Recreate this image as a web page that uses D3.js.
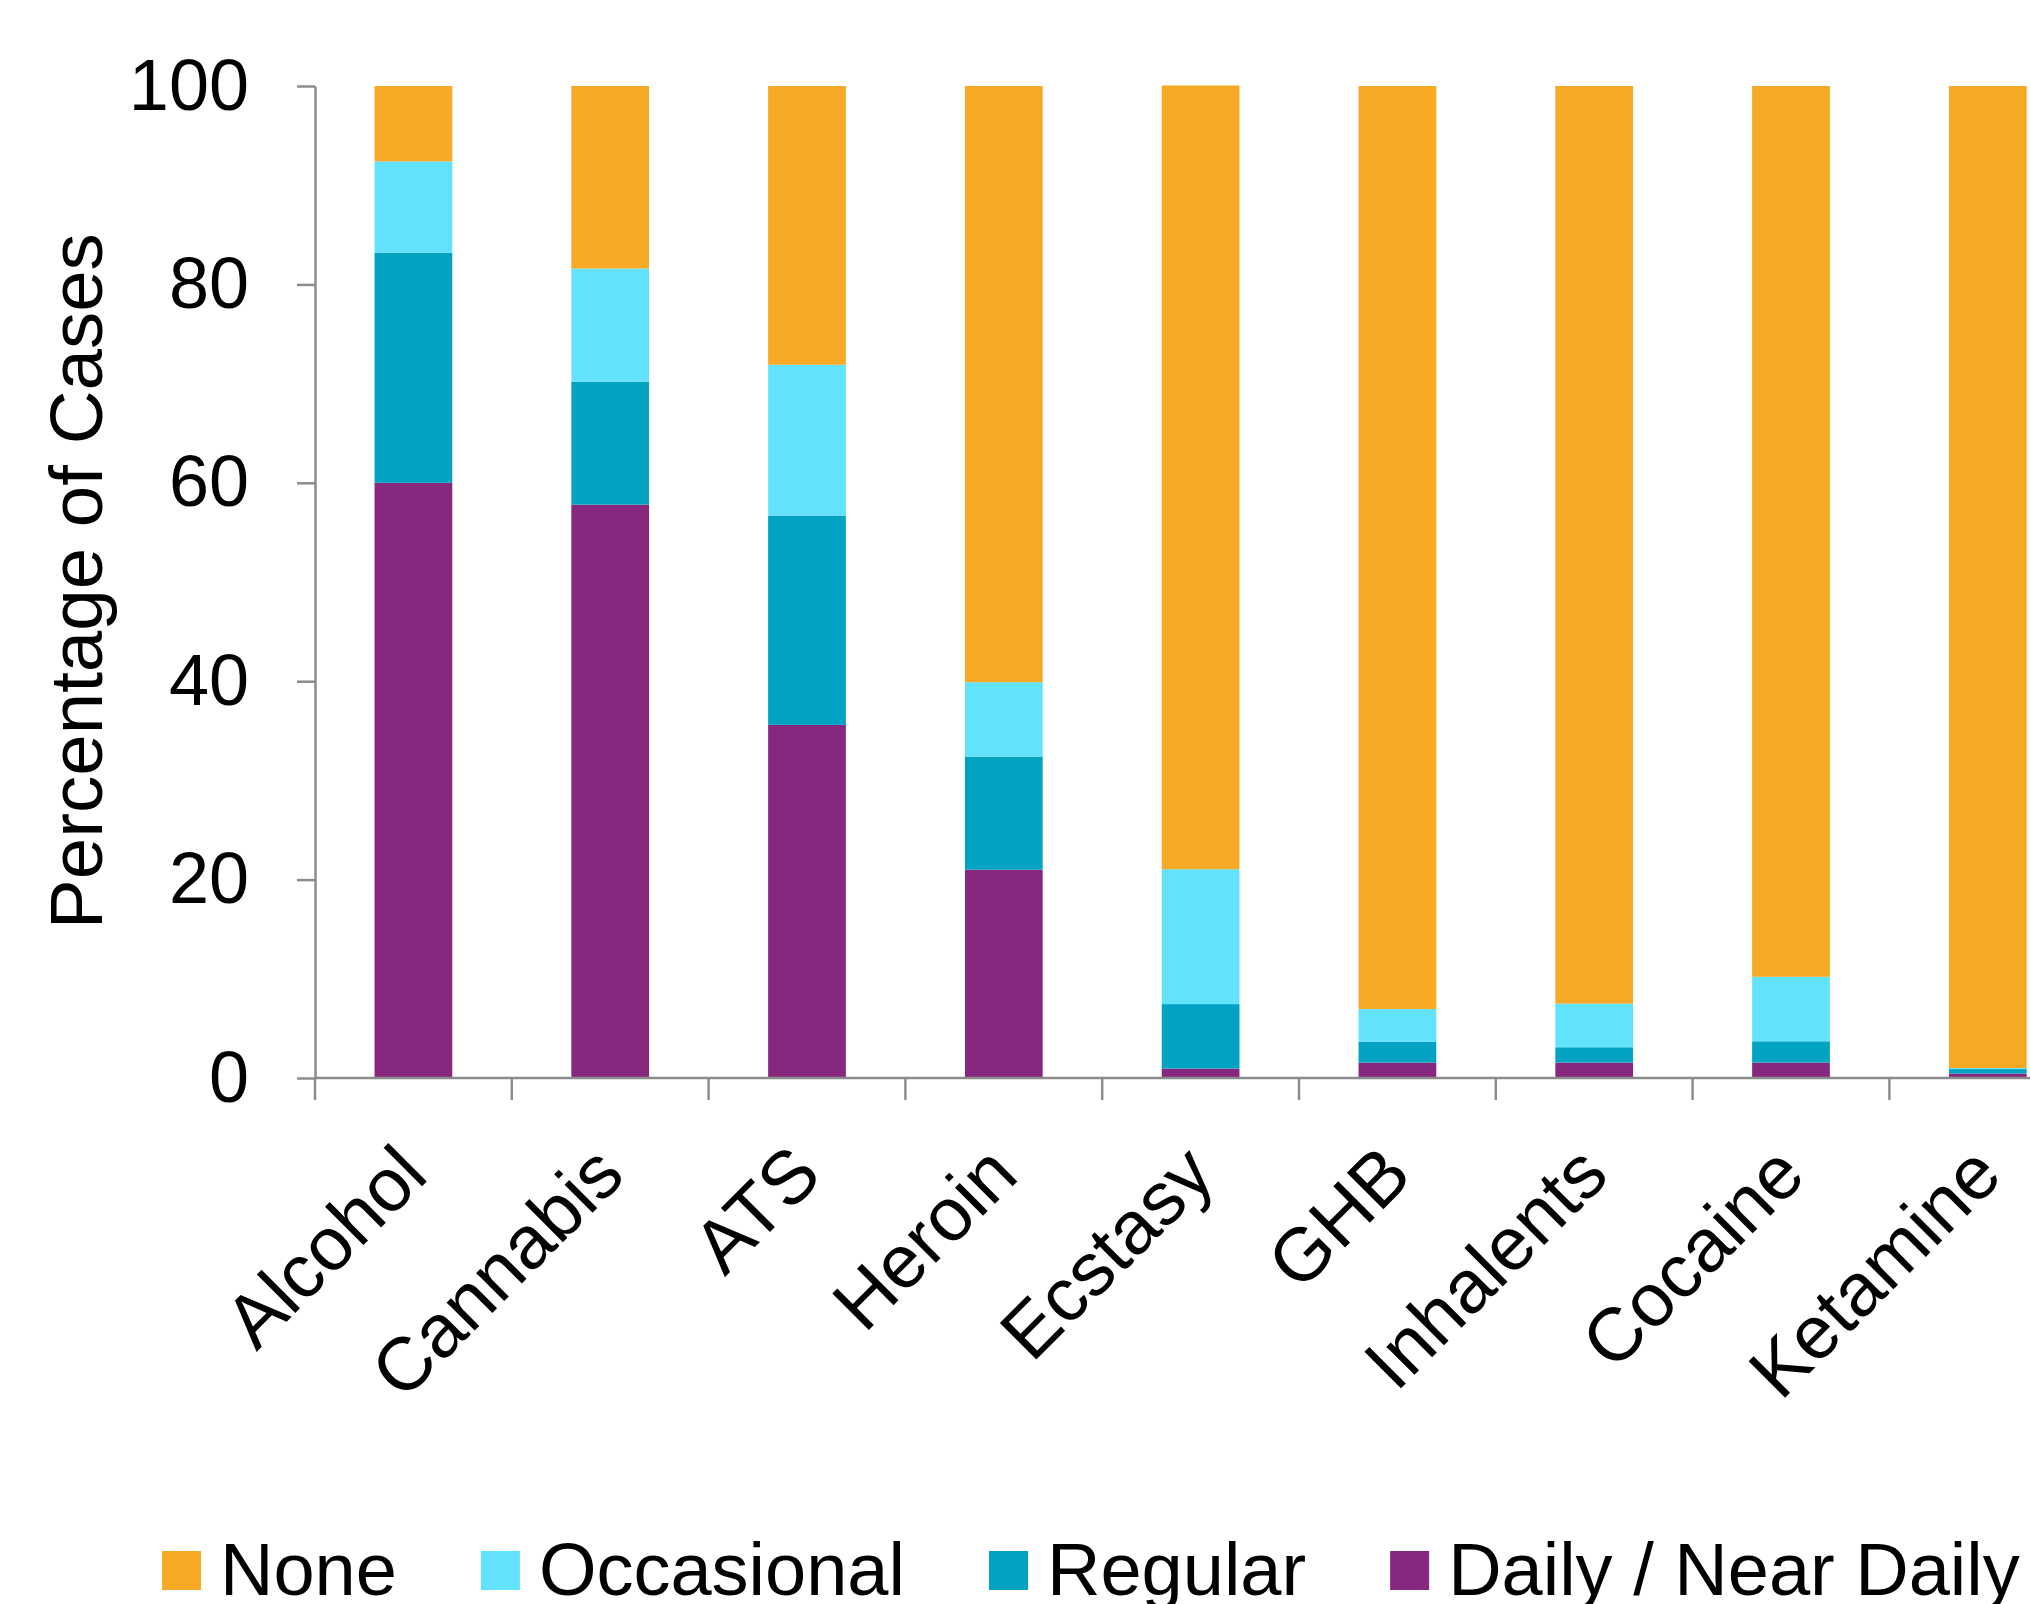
<!DOCTYPE html>
<html>
<head>
<meta charset="utf-8">
<script src="https://cdn.jsdelivr.net/npm/d3@7"></script>
<style>
  body { margin: 0; background: #fff; }
  svg { display: block; font-family: "Liberation Sans", Arial, sans-serif; }
</style>
</head>
<body>
<div id="graphic"></div>
<script>
// categories and series (percent of cases)
var drugs = ["Alcohol", "Cannabis", "ATS", "Heroin", "Ecstasy", "GHB", "Inhalents", "Cocaine", "Ketamine"];
var daily = [60.0, 57.8, 35.6, 21.0, 0.95, 1.55, 1.55, 1.55, 0.45];
var regular = [23.2, 12.4, 21.1, 11.4, 6.5, 2.1, 1.55, 2.15, 0.45];
var occasional = [9.2, 11.4, 15.2, 7.5, 13.6, 3.3, 4.4, 6.5, 0.1];
var none = [7.6, 18.4, 28.1, 60.1, 79.0, 93.05, 92.5, 89.8, 99.0];
var yTicks = [0, 20, 40, 60, 80, 100];

var seriesNames = ["Daily / Near Daily", "Regular", "Occasional", "None"];
var seriesColors = ["#86297e", "#02a2c3", "#63e2fe", "#f6a924"];
var legendOrder = ["None", "Occasional", "Regular", "Daily / Near Daily"];

var W = 2030, H = 1604;
var margin = {top: 86, left: 315};
var plotH = 1078 - margin.top;
var step = 196.8;

var svg = d3.select("#graphic").append("svg")
    .attr("width", W)
    .attr("height", H);

// build a table for d3.stack from the arrays
var table = drugs.map(function(d, i) {
  return {drug: d, "Daily / Near Daily": daily[i], "Regular": regular[i],
          "Occasional": occasional[i], "None": none[i]};
});
var stacked = d3.stack().keys(seriesNames)(table);

var x = d3.scaleBand()
    .domain(drugs)
    .range([margin.left, margin.left + step * drugs.length])
    .paddingInner(0.605)
    .paddingOuter(0.3025);

var y = d3.scaleLinear()
    .domain([0, 100])
    .range([margin.top + plotH, margin.top]);

var color = d3.scaleOrdinal().domain(seriesNames).range(seriesColors);

// bars
svg.append("g").selectAll("g")
    .data(stacked)
  .enter().append("g")
    .attr("fill", function(d) { return color(d.key); })
  .selectAll("rect")
    .data(function(d) { return d; })
  .enter().append("rect")
    .attr("x", function(d) { return x(d.data.drug); })
    .attr("y", function(d) { return y(d[1]); })
    .attr("width", x.bandwidth())
    .attr("height", function(d) { return y(d[0]) - y(d[1]); });

// y axis
var yAxis = svg.append("g")
    .attr("transform", "translate(" + margin.left + ",0)")
    .call(d3.axisLeft(y).tickValues(yTicks).tickSize(18).tickPadding(48).tickSizeOuter(0));
yAxis.select(".domain").attr("stroke", "#8c8c8c").attr("stroke-width", 2.5);
yAxis.selectAll(".tick line").attr("stroke", "#8c8c8c").attr("stroke-width", 2.5);
yAxis.selectAll(".tick text")
    .attr("fill", "#000")
    .style("font-size", "72px")
    .style("font-family", "Liberation Sans, Arial, sans-serif");

// x axis: line plus ticks at band boundaries
var xAxis = svg.append("g");
var x0 = y(0);
xAxis.append("line")
    .attr("x1", margin.left).attr("x2", W)
    .attr("y1", x0).attr("y2", x0)
    .attr("stroke", "#8c8c8c").attr("stroke-width", 2.5);
var bounds = drugs.map(function(d) { return x(d) - step * x.paddingInner() / 2; });
xAxis.selectAll("line.tick")
    .data(bounds)
  .enter().append("line")
    .attr("class", "tick")
    .attr("x1", function(d) { return d; }).attr("x2", function(d) { return d; })
    .attr("y1", x0).attr("y2", x0 + 22)
    .attr("stroke", "#8c8c8c").attr("stroke-width", 2.5);

xAxis.selectAll("text")
    .data(drugs)
  .enter().append("text")
    .attr("text-anchor", "end")
    .attr("transform", function(d) {
      return "translate(" + (x(d) + x.bandwidth() / 2 + 17) + "," + (x0 + 100) + ") rotate(-45)";
    })
    .style("font-size", "75px")
    .text(function(d) { return d; });

// y axis title
svg.append("text")
    .attr("transform", "translate(102," + (margin.top + plotH / 2 - 1) + ") rotate(-90)")
    .attr("text-anchor", "middle")
    .style("font-size", "74.5px")
    .text("Percentage of Cases");

// legend
var legend = svg.append("g");
var lx = 162;
legendOrder.forEach(function(name) {
  legend.append("rect")
      .attr("x", lx).attr("y", 1551)
      .attr("width", 39).attr("height", 39)
      .attr("fill", color(name));
  var t = legend.append("text")
      .attr("x", lx + 58).attr("y", 1595)
      .style("font-size", "74px")
      .text(name);
  lx += 58 + t.node().getComputedTextLength() + 84;
});
</script>
</body>
</html>
